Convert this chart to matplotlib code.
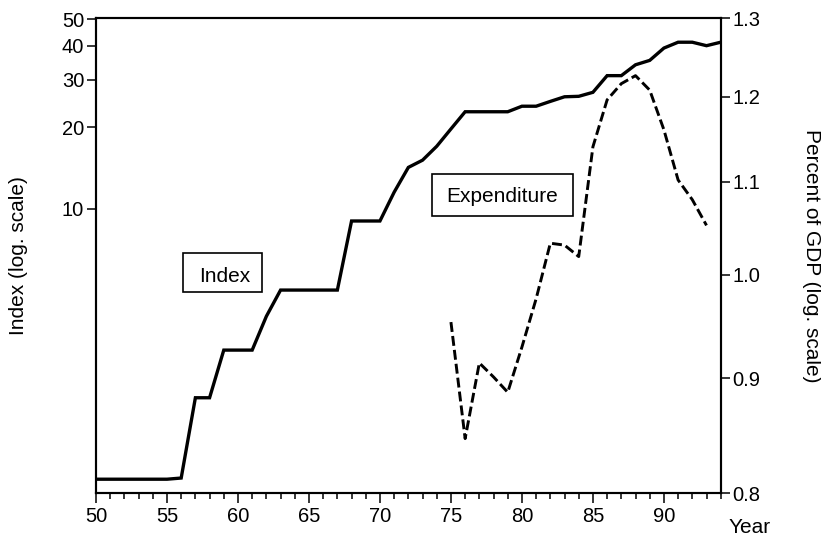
import matplotlib
matplotlib.use("Agg")
import matplotlib.pyplot as plt
from matplotlib.patches import Rectangle
from matplotlib.ticker import FixedLocator, NullLocator, MultipleLocator, FixedFormatter

plt.rcParams['font.family'] = ['Liberation Sans', 'DejaVu Sans']

years_index = list(range(50, 95))
index_values = [1.0, 1.0, 1.0, 1.0, 1.0, 1.0, 1.01, 2.0, 2.0, 3.0,
                3.0, 3.0, 4.0, 5.0, 5.0, 5.0, 5.0, 5.0, 9.0, 9.0,
                9.0, 11.5, 14.2, 15.1, 17.0, 19.7, 22.8, 22.8, 22.8, 22.8,
                23.9, 23.9, 24.9, 25.9, 26.0, 26.9, 31.0, 31.0, 34.0, 35.3,
                39.2, 41.2, 41.2, 40.0, 41.2]

years_exp = list(range(75, 94))
exp_values = [0.953, 0.846, 0.914, 0.901, 0.887, 0.929, 0.976, 1.033, 1.031, 1.019,
              1.140, 1.196, 1.216, 1.226, 1.208, 1.160, 1.102, 1.080, 1.052]

left_ticks = [10, 20, 30, 40, 50]
right_ticks = [0.8, 0.9, 1.0, 1.1, 1.2, 1.3]
x_ticks = [50, 55, 60, 65, 70, 75, 80, 85, 90]

W, H = 821, 537
def fx(px):
    return px / W
def fy(py):
    return 1 - py / H

fig = plt.figure(figsize=(W/100, H/100), dpi=100)
ax = fig.add_axes([fx(96), fy(493.3), (720.7-96)/W, (493.3-18.3)/H])
ax2 = ax.twinx()

ax.plot(years_index, index_values, color='black', lw=2.4, solid_joinstyle='miter')
ax2.plot(years_exp, exp_values, color='black', lw=2.1, linestyle=(0, (3.4, 1.4)))

ax.set_yscale('log')
ax.set_ylim(0.887, 50.5)
ax.set_xlim(50, 94)
ax.yaxis.set_major_locator(FixedLocator(left_ticks))
ax.yaxis.set_major_formatter(FixedFormatter([str(t) for t in left_ticks]))
ax.yaxis.set_minor_locator(NullLocator())
ax.xaxis.set_major_locator(FixedLocator(x_ticks))
ax.xaxis.set_minor_locator(MultipleLocator(1))

ax2.set_yscale('log')
ax2.set_ylim(0.8, 1.3)
ax2.yaxis.set_major_locator(FixedLocator(right_ticks))
ax2.yaxis.set_major_formatter(FixedFormatter([f"{t:.1f}" for t in right_ticks]))
ax2.yaxis.set_minor_locator(NullLocator())

for a in (ax, ax2):
    for s in a.spines.values():
        s.set_linewidth(1.5)
ax.tick_params(axis='y', which='major', direction='out', length=6.5, width=1.1, labelsize=14.5, pad=2)
ax.tick_params(axis='x', which='major', direction='out', length=7, width=1.1, labelsize=14.5, pad=3)
ax.tick_params(axis='x', which='minor', direction='out', length=4.5, width=1.1)
ax2.tick_params(axis='y', which='major', direction='out', length=6.5, width=1.1, labelsize=14.5, pad=2)

fig.text(fx(18), fy(256), 'Index (log. scale)', fontsize=15, rotation=90, ha='center', va='center')
fig.text(fx(811), fy(256), 'Percent of GDP (log. scale)', fontsize=15, rotation=-90, ha='center', va='center')
fig.text(fx(750), fy(533), 'Year', fontsize=15, ha='center', va='baseline')

for (x0, y0, x1, y1) in [(183, 253, 262, 292), (432, 174, 573, 216)]:
    fig.patches.append(Rectangle((fx(x0), fy(y1)), (x1-x0)/W, (y1-y0)/H,
                                 transform=fig.transFigure, facecolor='white',
                                 edgecolor='black', linewidth=1.2, zorder=5))
fig.text(fx(224.5), fy(282), 'Index', fontsize=15, ha='center', va='baseline', zorder=6)
fig.text(fx(502.5), fy(202.5), 'Expenditure', fontsize=15, ha='center', va='baseline', zorder=6)

fig.savefig('out.png', dpi=100)
